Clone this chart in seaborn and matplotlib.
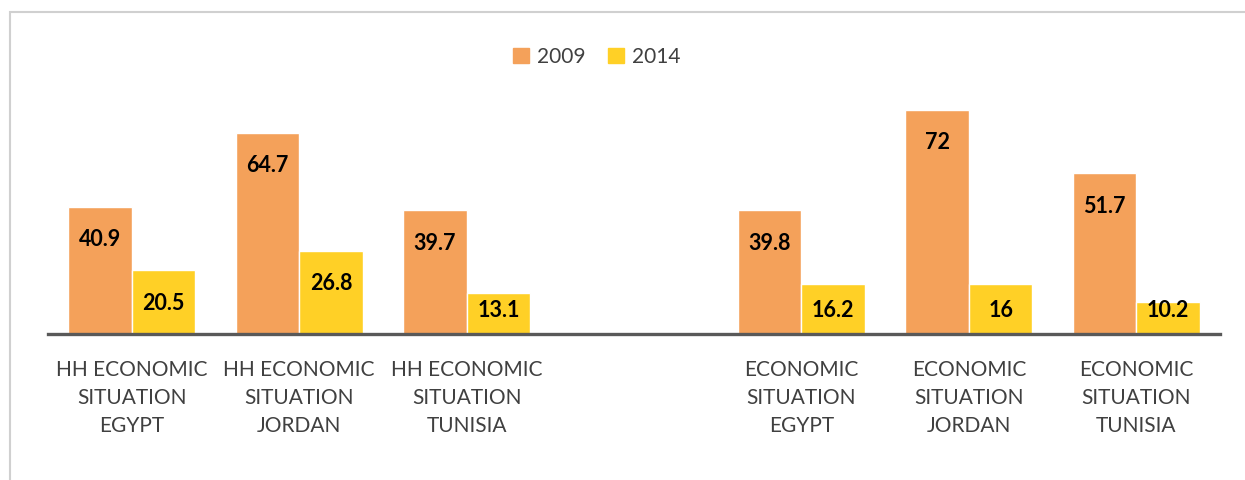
import pandas as pd
import numpy as np
import matplotlib
matplotlib.use("Agg")
import matplotlib.pyplot as plt
import matplotlib.patches as mpatches
import seaborn as sns

categories = ["HH ECONOMIC\nSITUATION\nEGYPT", "HH ECONOMIC\nSITUATION\nJORDAN",
              "HH ECONOMIC\nSITUATION\nTUNISIA", " ",
              "ECONOMIC\nSITUATION\nEGYPT", "ECONOMIC\nSITUATION\nJORDAN",
              "ECONOMIC\nSITUATION\nTUNISIA"]
years = ["2009", "2014"]
vals_2009 = [40.9, 64.7, 39.7, np.nan, 39.8, 72, 51.7]
vals_2014 = [20.5, 26.8, 13.1, np.nan, 16.2, 16, 10.2]
label_2009 = ["40.9", "64.7", "39.7", "", "39.8", "72", "51.7"]
label_2014 = ["20.5", "26.8", "13.1", "", "16.2", "16", "10.2"]

df = pd.DataFrame({
    "cat": categories * 2,
    "year": [years[0]] * len(categories) + [years[1]] * len(categories),
    "val": vals_2009 + vals_2014,
})
colors = {"2009": "#F4A15A", "2014": "#FFD026"}

sns.set_style("white")
plt.rcParams["font.family"] = ["Lato", "DejaVu Sans"]

fig = plt.figure(figsize=(12.45, 4.8), dpi=100)
ax = fig.add_axes([48 / 1245, 146 / 480, (1220 - 48) / 1245, (334 - 85) / 480])

sns.barplot(data=df.dropna(), x="cat", y="val", hue="year", order=categories,
            hue_order=years, palette=colors, width=0.76, ax=ax,
            edgecolor="white", linewidth=1, saturation=1, legend=False)

ax.set_ylim(0, 80)
ax.set_xlim(-0.5, len(categories) - 0.5)
ax.set_yticks([])
ax.set_xlabel("")
ax.set_ylabel("")
for s in ["top", "right", "left"]:
    ax.spines[s].set_visible(False)
ax.spines["bottom"].set_color("#595959")
ax.spines["bottom"].set_linewidth(2.4)
ax.tick_params(axis="x", length=0, pad=19, labelsize=15, colors="#404040")
for t in ax.get_xticklabels():
    t.set_linespacing(1.5)

# bar labels, inside near the top
for i in range(len(categories)):
    for j, (vals, labs) in enumerate([(vals_2009, label_2009), (vals_2014, label_2014)]):
        v = vals[i]
        if np.isnan(v):
            continue
        x = i - 0.19 + j * 0.38
        y = max(v - 10.6, 7.4)
        ax.text(x, y, labs[i], ha="center", va="center", fontsize=15.5,
                fontweight="bold", color="black")

handles = [mpatches.Patch(color=colors[y], label=y) for y in years]
fig.legend(handles=handles, loc="center", bbox_to_anchor=(597 / 1245, 1 - 57 / 480),
           ncol=2, frameon=False, fontsize=15, handlelength=0.75, handleheight=0.75,
           columnspacing=1.1, handletextpad=0.4, labelcolor="#404040")

fig.add_artist(mpatches.Rectangle((10 / 1245, -0.1), 2, 1.1 - 12 / 480,
                                  transform=fig.transFigure, fill=False,
                                  edgecolor="#D0D0D0", linewidth=1.5))

fig.savefig("out.png", dpi=100, facecolor="white")
